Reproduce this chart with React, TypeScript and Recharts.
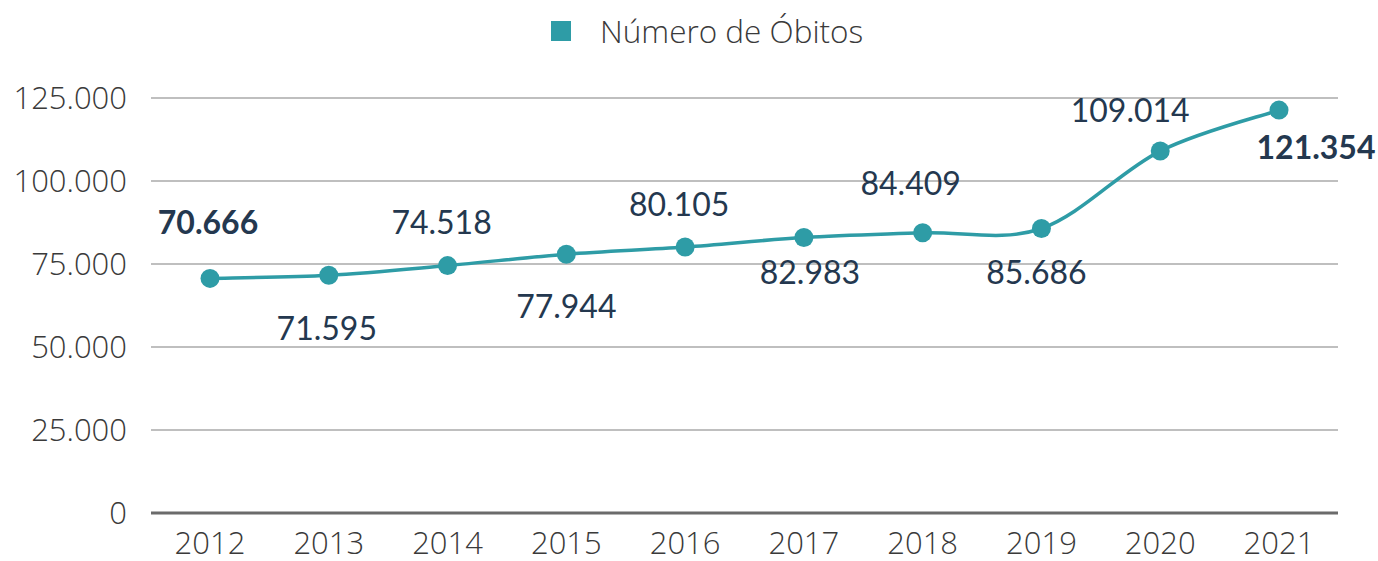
import React from "react";
import {
  LineChart,
  Line,
  XAxis,
  YAxis,
  CartesianGrid,
  Legend,
  LabelList,
} from "recharts";

const years = ["2012", "2013", "2014", "2015", "2016", "2017", "2018", "2019", "2020", "2021"];
const deaths = [70666, 71595, 74518, 77944, 80105, 82983, 84409, 85686, 109014, 121354];
const yTicks = [0, 25000, 50000, 75000, 100000, 125000];

const data = years.map((year, i) => ({ year, value: deaths[i] }));

const TEAL = "#2e9ca6";
const NAVY = "#24384f";

// where each value label sits relative to its point
const labelShift: [number, number][] = [
  [-2, -57],
  [-2, 52],
  [-6, -44],
  [0, 51],
  [-6, -44],
  [6, 34],
  [-12, -50],
  [-5, 43],
  [-30, -42],
  [37, 36],
];

const fmt = (v: number) => String(v).replace(/\B(?=(\d{3})+(?!\d))/g, ".");

// Excel-style smoothed line (catmull-rom like bezier)
const excelSmooth = (context: any) => {
  let pts: [number, number][] = [];
  return {
    areaStart() {},
    areaEnd() {},
    lineStart() {
      pts = [];
    },
    point(x: number, y: number) {
      pts.push([+x, +y]);
    },
    lineEnd() {
      if (!pts.length) return;
      context.moveTo(pts[0][0], pts[0][1]);
      for (let i = 0; i < pts.length - 1; i++) {
        const p0 = pts[i - 1] || pts[i];
        const p1 = pts[i];
        const p2 = pts[i + 1];
        const p3 = pts[i + 2] || p2;
        context.bezierCurveTo(
          p1[0] + (p2[0] - p0[0]) / 6,
          p1[1] + (p2[1] - p0[1]) / 6,
          p2[0] - (p3[0] - p1[0]) / 6,
          p2[1] - (p3[1] - p1[1]) / 6,
          p2[0],
          p2[1]
        );
      }
    },
  };
};

const ValueLabel = (props: any) => {
  const { x, y, value, index } = props;
  const [dx, dy] = labelShift[index] || [0, -40];
  const bold = index === 0 || index === deaths.length - 1;
  return (
    <text
      x={x + dx}
      y={y + dy}
      textAnchor="middle"
      dominantBaseline="central"
      fill={NAVY}
      fontFamily="Lato"
      fontWeight={bold ? 700 : 400}
      fontSize={32}
    >
      {fmt(value)}
    </text>
  );
};

const LegendContent = () => (
  <div style={{ display: "flex", alignItems: "center", fontFamily: "'Open Sans'", fontWeight: 300 }}>
    <span style={{ width: 20, height: 20, background: TEAL, display: "inline-block", marginRight: 29 }} />
    <span style={{ fontSize: 31.5, color: "#3a3a3a" }}>Número de Óbitos</span>
  </div>
);

const App = () => {
  const tickStyle = { fontFamily: "'Open Sans'", fontWeight: 300, fontSize: 31, fill: "#3a3a3a" };
  return (
    <div style={{ position: "absolute", left: 0, top: 0, background: "#fff", width: 1378, height: 561 }}>
      <LineChart width={1378} height={561} data={data} margin={{ top: 38, right: 40, bottom: 0, left: 0 }}>
        <Legend
          verticalAlign="top"
          height={60}
          content={<LegendContent />}
          wrapperStyle={{ top: 9, left: 551, width: "auto", height: 60 }}
        />
        <CartesianGrid vertical={false} stroke="#bfbfbf" strokeWidth={2} />
        <XAxis
          dataKey="year"
          axisLine={{ stroke: "#6b6b6b", strokeWidth: 3 }}
          tickLine={false}
          tick={tickStyle}
          tickMargin={13}
          height={48}
          padding={{ left: 59, right: 59 }}
        />
        <YAxis
          domain={[0, 125000]}
          ticks={yTicks}
          tickFormatter={fmt}
          axisLine={false}
          tickLine={false}
          tick={tickStyle}
          tickMargin={18}
          width={151}
          interval={0}
        />
        <Line
          dataKey="value"
          type={excelSmooth as any}
          stroke={TEAL}
          strokeWidth={3.5}
          dot={{ r: 9.5, fill: TEAL, stroke: "none" }}
          activeDot={false}
          isAnimationActive={false}
        >
          <LabelList dataKey="value" content={<ValueLabel />} />
        </Line>
      </LineChart>
    </div>
  );
};

export default App;
